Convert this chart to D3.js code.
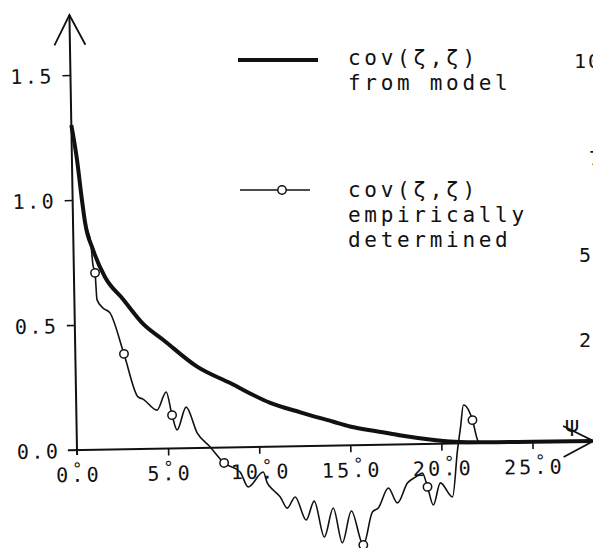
<!DOCTYPE html>
<html><head><meta charset="utf-8">
<script src="https://cdn.jsdelivr.net/npm/d3@7"></script>
<style>html,body{margin:0;padding:0;background:#fff;overflow:hidden}</style>
</head><body>
<svg id="c" width="593" height="548"></svg>
<script>
// ---- data ----
const modelPsi = [0, 0.28, 0.51, 0.66, 1.07, 1.7, 2.67, 3.75, 4.83, 6.67, 8.47, 10.65, 12.3, 14.1, 15.0, 16.7, 17.8, 19.6, 21, 23, 25, 28.3];
const modelCov = [1.30, 1.16, 1.0, 0.91, 0.80, 0.69, 0.60, 0.50, 0.435, 0.325, 0.257, 0.175, 0.135, 0.095, 0.075, 0.051, 0.035, 0.015, 0.005, 0.002, 0.001, 0];

const empPsi = [0, 0.28, 0.51, 0.66, 0.95, 1.05, 1.16, 1.24, 1.56, 1.94, 2.67, 3.40, 3.67, 4.43, 4.95, 5.25, 5.51, 6.03, 6.61, 7.31, 8.06, 8.93, 9.36, 10.2, 10.41, 10.73, 11.11, 11.48, 11.93, 12.51, 12.97, 13.49, 14.01, 14.47, 15.0, 15.62, 16.15, 16.48, 17.05, 17.53, 18.1, 18.55, 18.93, 19.2, 19.5, 19.91, 20.56, 20.88, 21.07, 21.25, 21.52, 21.73, 21.99, 22.1];
const empCov = [1.30, 1.16, 1.0, 0.91, 0.83, 0.74, 0.707, 0.60, 0.566, 0.546, 0.381, 0.208, 0.199, 0.154, 0.226, 0.133, 0.073, 0.164, 0.06, 0.003, -0.062, -0.099, -0.16, -0.101, -0.145, -0.174, -0.202, -0.247, -0.203, -0.296, -0.221, -0.365, -0.25, -0.39, -0.263, -0.40, -0.269, -0.253, -0.174, -0.234, -0.155, -0.132, -0.116, -0.172, -0.245, -0.157, -0.214, -0.027, 0.065, 0.153, 0.133, 0.092, 0.012, 0];

const markerPsi = [1.16, 2.67, 5.25, 8.06, 15.62, 19.2, 21.73];
const markerCov = [0.707, 0.381, 0.133, -0.062, -0.40, -0.172, 0.092];

const xTickValues = [5, 10, 15, 20, 25];
const xLabelValues = [0, 5, 10, 15, 20, 25];
const xLabels = ["0.0", "5.0", "10.0", "15.0", "20.0", "25.0"];
const yTickValues = [0.5, 1.0, 1.5];
const yLabelValues = [0, 0.5, 1.0, 1.5];
const yLabels = ["0.0", "0.5", "1.0", "1.5"];

const legendModel = ["cov(ζ,ζ)", "from model"];
const legendEmp = ["cov(ζ,ζ)", "empirically", "determined"];
const axisName = "ψ";
const edgeLabels = ["100", "75", "50", "25"];

// ---- drawing ----
const FONT = "'DejaVu Sans Mono', monospace";
const INK = "#111";
const svg = d3.select("#c");
svg.append("rect").attr("width", 593).attr("height", 548).attr("fill", "#fff");

const x = d3.scaleLinear().domain([0, 25]).range([77, 532.5]);
const y = d3.scaleLinear().domain([0, 1.5]).range([450, 75]);

const g = svg.append("g").attr("transform", "rotate(-1,77,450)");

// axes ticks
const xAxis = d3.axisBottom(x).tickValues(xTickValues).tickSize(7).tickSizeOuter(0).tickFormat("");
const gx = g.append("g").attr("transform", `translate(0,${y(0)})`).call(xAxis);
gx.select(".domain").remove();
gx.selectAll(".tick line").attr("stroke", INK).attr("stroke-width", 1.6);

const yAxis = d3.axisLeft(y).tickValues(yTickValues).tickSize(8).tickSizeOuter(0).tickFormat("");
const gy = g.append("g").attr("transform", `translate(${x(0)},0)`).call(yAxis);
gy.select(".domain").remove();
gy.selectAll(".tick line").attr("stroke", INK).attr("stroke-width", 1.6);

// axis lines with arrows
const line = d3.line().x(d => x(d[0])).y(d => y(d[1]));
g.append("path").attr("d", line([[-0.5, 0], [28.35, 0]]))
  .attr("stroke", INK).attr("stroke-width", 2).attr("fill", "none");
g.append("path").attr("d", line([[26.7, 0.062], [28.35, 0], [26.7, -0.062]]))
  .attr("stroke", INK).attr("stroke-width", 1.8).attr("fill", "none");
g.append("path").attr("d", line([[0, -0.02], [0, 1.74]]))
  .attr("stroke", INK).attr("stroke-width", 2).attr("fill", "none");
g.append("path").attr("d", line([[-0.85, 1.62], [0, 1.74], [0.85, 1.62]]))
  .attr("stroke", INK).attr("stroke-width", 1.8).attr("fill", "none");

// tick labels (degree mark written above the decimal point)
const LP = 15.2;
xLabelValues.forEach((v, i) => {
  const s = xLabels[i];
  const n = s.length;
  const cx = x(v);
  const base = y(0) + 32;
  const xs = s.split("").map((c, k) => cx + (k - (n - 1) / 2) * LP);
  const di = s.indexOf(".");
  const t = g.append("text").attr("text-anchor", "middle").attr("font-family", FONT)
    .attr("font-size", 20).attr("fill", INK);
  t.append("tspan").text(s.slice(0, di)).attr("x", xs.slice(0, di).join(" ")).attr("y", base);
  t.append("tspan").text("°").attr("x", xs[di]).attr("y", base - 7).attr("font-size", 17);
  t.append("tspan").text(s.slice(di)).attr("x", xs.slice(di).join(" ")).attr("y", base);
});
yLabelValues.forEach((v, i) => {
  const s = yLabels[i];
  const n = s.length;
  const xs = s.split("").map((c, k) => x(0) - 25 - (n - 1 - k) * 14.5);
  g.append("text").text(s).attr("x", xs.join(" ")).attr("y", y(v) + 8)
    .attr("text-anchor", "middle").attr("font-family", FONT).attr("font-size", 20).attr("fill", INK);
});

// curves
const curveLine = d3.line().x(d => x(d[0])).y(d => y(d[1])).curve(d3.curveMonotoneX);
g.append("path").attr("d", curveLine(modelPsi.map((p, i) => [p, modelCov[i]])))
  .attr("fill", "none").attr("stroke", INK).attr("stroke-width", 4).attr("stroke-linejoin", "round");
g.append("path").attr("d", curveLine(empPsi.map((p, i) => [p, empCov[i]])))
  .attr("fill", "none").attr("stroke", INK).attr("stroke-width", 1.6).attr("stroke-linejoin", "round");
g.selectAll("circle.m").data(markerPsi.map((p, i) => [p, markerCov[i]])).join("circle")
  .attr("class", "m").attr("cx", d => x(d[0])).attr("cy", d => y(d[1])).attr("r", 4.2)
  .attr("fill", "#fff").attr("stroke", INK).attr("stroke-width", 1.5);

// axis name
svg.append("text").text(axisName).attr("x", 572).attr("y", 432).attr("text-anchor", "middle")
  .attr("font-family", "'DejaVu Sans', sans-serif").attr("font-size", 22).attr("fill", INK);

// legend
const LS = 3.7;
svg.append("line").attr("x1", 238).attr("x2", 318).attr("y1", 60).attr("y2", 60)
  .attr("stroke", INK).attr("stroke-width", 4);
legendModel.forEach((t, i) => {
  svg.append("text").text(t).attr("x", 348).attr("y", 65 + i * 25)
    .attr("font-family", FONT).attr("font-size", 21).attr("letter-spacing", LS).attr("fill", INK);
});
svg.append("line").attr("x1", 240).attr("x2", 310).attr("y1", 190).attr("y2", 190)
  .attr("stroke", INK).attr("stroke-width", 1.6);
svg.append("circle").attr("cx", 282).attr("cy", 190).attr("r", 4.2)
  .attr("fill", "#fff").attr("stroke", INK).attr("stroke-width", 1.5);
legendEmp.forEach((t, i) => {
  svg.append("text").text(t).attr("x", 348).attr("y", 197 + i * 25)
    .attr("font-family", FONT).attr("font-size", 21).attr("letter-spacing", LS).attr("fill", INK);
});

// fragments of a neighbouring figure cut by the right edge
const edgeX = [574, 589, 579, 579];
const edgeY = [68, 165, 262, 347];
edgeLabels.forEach((t, i) => {
  svg.append("text").text(t).attr("x", edgeX[i]).attr("y", edgeY[i])
    .attr("font-family", FONT).attr("font-size", 20).attr("letter-spacing", 2).attr("fill", INK);
});
</script>
</body></html>
